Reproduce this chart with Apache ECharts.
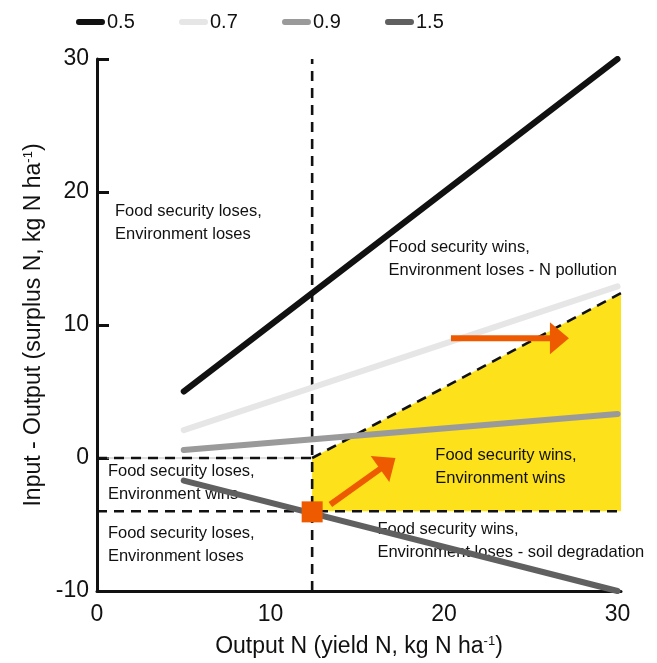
<!DOCTYPE html>
<html><head><meta charset="utf-8">
<script src="https://cdn.jsdelivr.net/npm/echarts@6/dist/echarts.min.js"></script>
<style>html,body{margin:0;padding:0;background:#fff}#c{width:657px;height:663px}</style>
</head><body><div id="c"></div>
<script>
// ---- data ----
const seriesNames = ['0.5', '0.7', '0.9', '1.5'];
const outputN = [5, 30];
const surplus05 = [5, 30];
const surplus07 = [2.1, 12.9];
const surplus09 = [0.6, 3.3];
const surplus15 = [-1.7, -10];
const xTickValues = [0, 10, 20, 30];
const yTickValues = [-10, 0, 10, 20, 30];
// threshold / reference lines
const currentOutput = 12.4;
const targetSurplusLow = -4;
const xAxisEnd = 30.2;
const verticalRef = [[currentOutput, -10], [currentOutput, 30]];
const zeroRef = [[0, 0], [currentOutput, 0]];
const lowRef = [[0, targetSurplusLow], [xAxisEnd, targetSurplusLow]];
const diagRef = [[currentOutput, 0], [xAxisEnd, 12.4]];
// win-win zone polygon
const zoneX = [12.4, 30.2, 30.2, 12.4];
const zoneY = [0, 12.4, -4, -4];
// arrows
const arrowFrom = [[20.4, 9.0], [13.45, -3.5]];
const arrowTo = [[27.2, 9.0], [17.2, 0.0]];
// current point
const currentPoint = [12.4, -4.05];
// zone annotations
const zoneLabels = [
  'Food security loses,\nEnvironment loses',
  'Food security wins,\nEnvironment loses - N pollution',
  'Food security wins,\nEnvironment wins',
  'Food security loses,\nEnvironment wins',
  'Food security loses,\nEnvironment loses',
  'Food security wins,\nEnvironment loses - soil degradation'
];
const labelX = [1.04, 16.8, 19.5, 0.63, 0.63, 16.16];
const labelY = [17.67, 14.93, -0.64, -1.91, -6.56, -6.26];

// ---- style ----
const FONT = "'Liberation Sans', Arial, sans-serif";
const nameSize = 23;
const tickSize = 23;
const legendSize = 20;
const INK = '#111111';
const ORANGE = '#EE5A00';
const YELLOW = '#FCE11B';
const lineColors = ['#111111', '#E6E6E6', '#9A9A9A', '#606060'];
const surplusSets = [surplus05, surplus07, surplus09, surplus15];
const dash = [10, 7];

const cv = document.createElement('canvas').getContext('2d');
cv.font = legendSize + 'px ' + FONT;
const legendTextW = cv.measureText('0.5').width;

const chart = echarts.init(document.getElementById('c'), null, {renderer: 'canvas'});

const nueSeries = seriesNames.map((nm, k) => ({
  name: nm, type: 'line', symbol: 'none', z: 5, silent: true,
  data: outputN.map((x, i) => [x, surplusSets[k][i]]),
  lineStyle: {width: 6, color: lineColors[k], cap: 'round'},
  itemStyle: {color: lineColors[k]}
}));

function dashed(data, z) {
  return {type: 'line', symbol: 'none', silent: true, z: z || 3, data: data,
    lineStyle: {width: 2.6, color: INK, type: dash, cap: 'butt'}};
}

const capsule = 'path://M3,0 L27,0 A3,3 0 0 1 27,6 L3,6 A3,3 0 0 1 3,0 Z';
const supStyle = {fontFamily: FONT, fontSize: 13, color: INK, verticalAlign: 'top', padding: [0, 0, 9, 0]};

const option = {
  animation: false,
  backgroundColor: '#fff',
  grid: {left: 97, right: 36, top: 59, bottom: 72, containLabel: false},
  legend: {
    data: seriesNames, left: 76, top: 12, padding: 0, icon: capsule,
    itemWidth: 29, itemHeight: 6, itemGap: Math.max(10, 103 - 29 - 2 - legendTextW),
    textStyle: {fontFamily: FONT, fontSize: legendSize, color: INK, padding: [0, 0, 0, -3]}
  },
  xAxis: {
    type: 'value', min: 0, max: xAxisEnd, interval: 10,
    name: 'Output N (yield N, kg N ha{sup|-1})',
    nameLocation: 'middle', nameGap: 44,
    nameTextStyle: {fontFamily: FONT, fontSize: nameSize, color: INK, rich: {sup: supStyle}},
    axisLine: {show: true, onZero: false, lineStyle: {color: INK, width: 3}},
    axisTick: {show: false},
    splitLine: {show: false},
    axisLabel: {fontFamily: FONT, fontSize: tickSize, color: INK, margin: 12,
      formatter: v => (xTickValues.indexOf(v) >= 0 ? String(v) : '')}
  },
  yAxis: {
    type: 'value', min: -10, max: 30, interval: 10,
    name: 'Input - Output (surplus N, kg N ha{sup|-1})',
    nameLocation: 'middle', nameGap: 50,
    nameTextStyle: {fontFamily: FONT, fontSize: nameSize, color: INK, rich: {sup: supStyle}},
    axisLine: {show: true, onZero: false, lineStyle: {color: INK, width: 3}},
    axisTick: {show: true, inside: true, length: 12, lineStyle: {color: INK, width: 3}},
    splitLine: {show: false},
    axisLabel: {fontFamily: FONT, fontSize: tickSize, color: INK, margin: 8,
      formatter: v => (yTickValues.indexOf(v) >= 0 ? String(v) : '')}
  },
  series: [
    {
      type: 'custom', silent: true, z: 1, data: [[0, 0]],
      renderItem: function (params, api) {
        const pts = zoneX.map((x, i) => api.coord([x, zoneY[i]]));
        return {type: 'polygon', shape: {points: pts}, style: {fill: YELLOW}};
      }
    },
    {
      type: 'custom', silent: true, z: 2,
      data: zoneLabels.map((t, i) => [labelX[i], labelY[i]]),
      renderItem: function (params, api) {
        const i = params.dataIndex;
        const p = api.coord([labelX[i], labelY[i]]);
        return {type: 'text', x: p[0], y: p[1],
          style: {text: zoneLabels[i], fontFamily: FONT, fontSize: 16.5, lineHeight: 23,
            fill: INK, align: 'left', verticalAlign: 'middle'}};
      }
    },
    {type: 'line', symbol: 'none', silent: true, z: 2, data: zeroRef,
      lineStyle: {width: 1, color: '#BBBBBB'}},
    dashed(verticalRef), dashed(zeroRef), dashed(lowRef), dashed(diagRef),
    ...nueSeries,
    {
      type: 'custom', silent: true, z: 7,
      data: arrowFrom.map((d, i) => [d[0], d[1]]),
      renderItem: function (params, api) {
        const i = params.dataIndex;
        const p0 = api.coord(arrowFrom[i]);
        const p1 = api.coord(arrowTo[i]);
        const dx = p1[0] - p0[0], dy = p1[1] - p0[1];
        const L = Math.hypot(dx, dy), ux = dx / L, uy = dy / L;
        const hl = 19, hw = 16;
        const bx = p1[0] - ux * hl, by = p1[1] - uy * hl;
        return {type: 'group', children: [
          {type: 'line', shape: {x1: p0[0], y1: p0[1], x2: bx + ux * 2, y2: by + uy * 2},
            style: {stroke: ORANGE, lineWidth: 6}},
          {type: 'polygon', shape: {points: [[p1[0], p1[1]], [bx - uy * hw, by + ux * hw], [bx + uy * hw, by - ux * hw]]},
            style: {fill: ORANGE}}
        ]};
      }
    },
    {type: 'scatter', silent: true, z: 8, data: [currentPoint], symbol: 'rect', symbolSize: 21,
      itemStyle: {color: ORANGE, opacity: 1}}
  ]
};
chart.setOption(option);
</script></body></html>
